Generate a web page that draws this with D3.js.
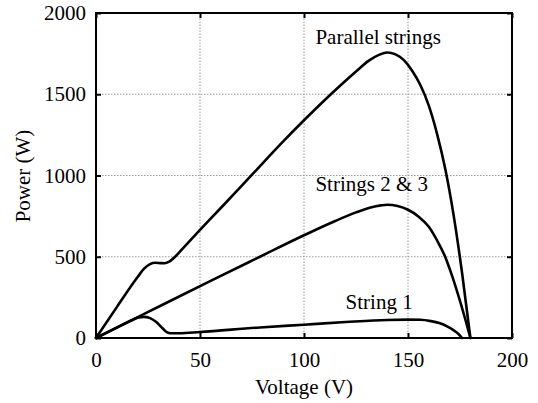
<!DOCTYPE html>
<html><head><meta charset="utf-8">
<script src="https://cdn.jsdelivr.net/npm/d3@7"></script>
<style>html,body{margin:0;padding:0;background:#fff;}svg{display:block;}</style>
</head><body>
<svg id="chart" width="538" height="403"></svg>
<script>
const xTicks = [0, 50, 100, 150, 200];
const yTicks = [0, 500, 1000, 1500, 2000];

const parallelV = [0,10,20,23,26,28.5,31,33,35,38,42,50,60,75,90,100,110,118,125,131,136,140,144,148,152,156,160,164,168,172,176,180];
const parallelP = [0,190,375,425,455,463,461,460,468,500,555,665,800,1005,1210,1340,1465,1560,1640,1705,1742,1757,1745,1710,1645,1555,1430,1255,1035,750,400,0];

const s23V = [0,22.7,55.6,78.8,100,115,125,132,137,140,145,150,155,160,164,168,171,174,177,180];
const s23P = [0,145,355,500,632,720,773,803,816,820,812,789,748,685,600,496,390,270,140,0];

const s1V = [0,10,17,20,23,26,29,32,34,36,40,50,78.8,100,120,140,150,156,161,165,169,172,174,176];
const s1P = [0,64,108,124,130,122,98,60,36,29,29,37,65,82,98,111,113,112,104,92,70,47,28,0];

const labels = [
  {text: "Parallel strings", v: 105.5, p: 1807},
  {text: "Strings 2 & 3", v: 105.5, p: 907},
  {text: "String 1", v: 120, p: 180}
];

const W = 538, H = 403;
const m = {left: 96, top: 13, right: 26, bottom: 65};
const svg = d3.select("#chart");
const x = d3.scaleLinear().domain([0, 200]).range([m.left, W - m.right]);
const y = d3.scaleLinear().domain([0, 2000]).range([H - m.bottom, m.top]);
const font = '"Liberation Serif","Times New Roman",Times,serif';

// grid
const g = svg.append("g");
g.selectAll(".gx").data(xTicks.slice(1, -1)).enter().append("line")
  .attr("x1", d => x(d)).attr("x2", d => x(d)).attr("y1", y(0)).attr("y2", y(2000))
  .attr("stroke", "#9a9a9a").attr("stroke-width", 1).attr("stroke-dasharray", "1.5,1.5");
g.selectAll(".gy").data(yTicks.slice(1, -1)).enter().append("line")
  .attr("y1", d => y(d)).attr("y2", d => y(d)).attr("x1", x(0)).attr("x2", x(200))
  .attr("stroke", "#9a9a9a").attr("stroke-width", 1).attr("stroke-dasharray", "1.5,1.5");

// axes with inward ticks
const fmt = d3.format("d");
const axB = svg.append("g").attr("transform", `translate(0,${y(0)})`)
  .call(d3.axisBottom(x).tickValues(xTicks).tickSize(-5).tickPadding(14).tickFormat(fmt));
const axL = svg.append("g").attr("transform", `translate(${x(0)},0)`)
  .call(d3.axisLeft(y).tickValues(yTicks).tickSize(-5).tickPadding(10).tickFormat(fmt));
const axT = svg.append("g").attr("transform", `translate(0,${y(2000)})`)
  .call(d3.axisTop(x).tickValues(xTicks).tickSize(-5).tickFormat(""));
const axR = svg.append("g").attr("transform", `translate(${x(200)},0)`)
  .call(d3.axisRight(y).tickValues(yTicks).tickSize(-5).tickFormat(""));
[axB, axL, axT, axR].forEach(a => {
  a.attr("font-family", font);
  a.select(".domain").remove();
  a.selectAll(".tick line").attr("stroke", "#000").attr("stroke-width", 2);
  a.selectAll("text").attr("font-size", 21).attr("fill", "#000");
});

// frame
svg.append("rect").attr("x", x(0)).attr("y", y(2000))
  .attr("width", x(200) - x(0)).attr("height", y(0) - y(2000))
  .attr("fill", "none").attr("stroke", "#000").attr("stroke-width", 2);

// curves
const line = d3.line().x(d => x(d[0])).y(d => y(d[1])).curve(d3.curveMonotoneX);
const series = [
  d3.zip(parallelV, parallelP),
  d3.zip(s23V, s23P),
  d3.zip(s1V, s1P)
];
svg.selectAll(".curve").data(series).enter().append("path")
  .attr("d", line).attr("fill", "none").attr("stroke", "#000")
  .attr("stroke-width", 2.6).attr("stroke-linejoin", "round").attr("stroke-linecap", "round");

// labels
svg.selectAll(".lab").data(labels).enter().append("text")
  .attr("x", d => x(d.v)).attr("y", d => y(d.p))
  .attr("font-family", font)
  .attr("font-size", 21).attr("fill", "#000")
  .text(d => d.text);

// axis titles
svg.append("text").attr("x", 304).attr("y", 394).attr("text-anchor", "middle")
  .attr("font-family", font)
  .attr("font-size", 21).text("Voltage (V)");
svg.append("text").attr("transform", "translate(30,176) rotate(-90)").attr("text-anchor", "middle")
  .attr("font-family", font)
  .attr("font-size", 21).text("Power (W)");
</script>
</body></html>
